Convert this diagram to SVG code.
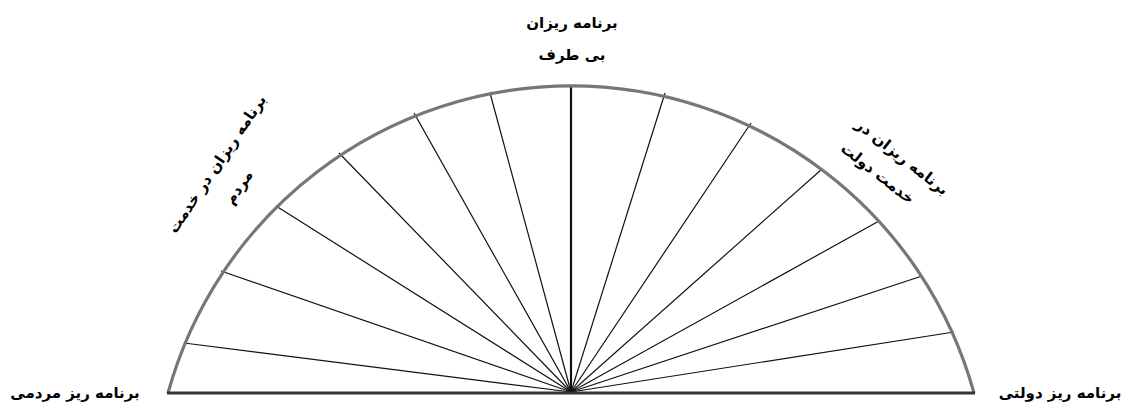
<svg xmlns="http://www.w3.org/2000/svg" width="1128" height="404" viewBox="0 0 1128 404">
<style>
.lbl{font-family:"DejaVu Sans","Noto Sans",sans-serif;font-weight:bold;font-size:15px;fill:#000;text-anchor:middle}
.spoke{stroke:#111;stroke-width:1.2;fill:none}
</style>
<rect width="1128" height="404" fill="#fff"/>
<g id="connectors">
<line class="spoke" x1="571" y1="392" x2="184" y2="343"/>
<line class="spoke" x1="571" y1="392" x2="221" y2="271"/>
<line class="spoke" x1="571" y1="392" x2="276" y2="206"/>
<line class="spoke" x1="571" y1="392" x2="339" y2="153"/>
<line class="spoke" x1="571" y1="392" x2="414" y2="113"/>
<line class="spoke" x1="571" y1="392" x2="490" y2="93"/>
<line class="spoke" x1="571" y1="392" x2="665" y2="93"/>
<line class="spoke" x1="571" y1="392" x2="751" y2="123"/>
<line class="spoke" x1="571" y1="392" x2="822" y2="169"/>
<line class="spoke" x1="571" y1="392" x2="879" y2="221"/>
<line class="spoke" x1="571" y1="392" x2="922" y2="276"/>
<line class="spoke" x1="571" y1="392" x2="954" y2="332"/>
<line x1="571" y1="85" x2="571" y2="393" stroke="#111" stroke-width="2.2"/>
</g>
<g id="semicircle">
<path d="M168,393 A418,418 0 0,1 974,393" fill="none" stroke="#777" stroke-width="3.2"/>
<line x1="167" y1="393" x2="975" y2="393" stroke="#333" stroke-width="2.8"/>
</g>
<g id="label-left"><text class="lbl" x="75" y="398">برنامه ریز مردمی</text></g>
<g id="label-right"><text class="lbl" x="1060" y="398">برنامه ریز دولتی</text></g>
<g id="label-top">
<text class="lbl" x="572" y="28">برنامه ریزان</text>
<text class="lbl" x="572" y="60">بی طرف</text>
</g>
<g id="label-upper-left" transform="translate(217,164) rotate(-56)">
<text class="lbl" x="0" y="5">برنامه ریزان در خدمت</text>
<text class="lbl" x="-7" y="36">مردم</text>
</g>
<g id="label-upper-right" transform="translate(902,157) rotate(38)">
<text class="lbl" x="0" y="5">برنامه ریزان در</text>
<text class="lbl" x="-9" y="33">خدمت دولت</text>
</g>
</svg>
